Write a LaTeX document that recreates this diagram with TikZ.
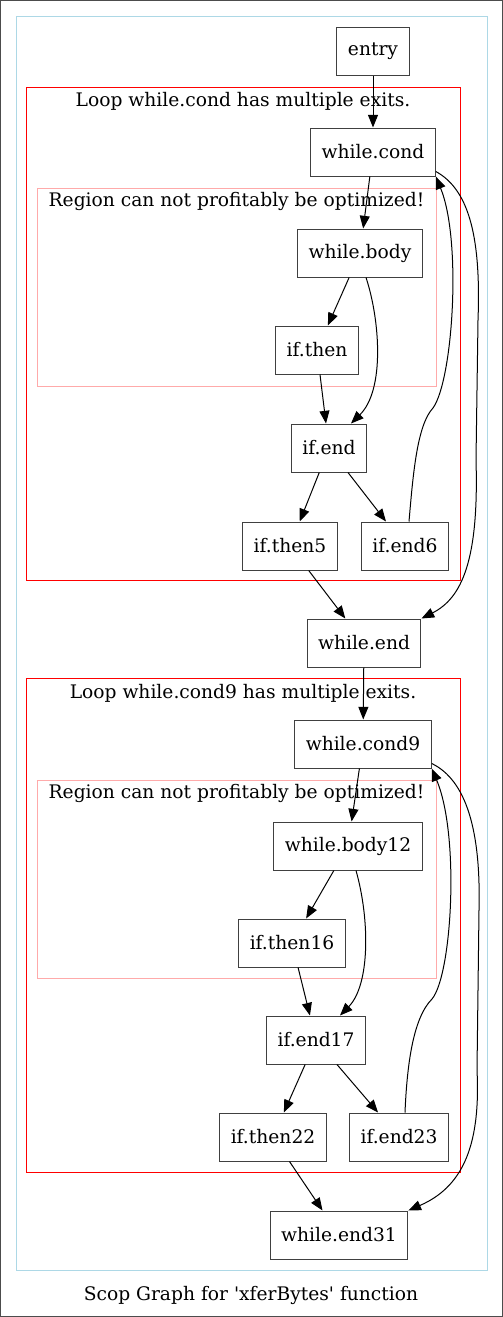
\documentclass[tikz,border=0pt]{standalone}
\usepackage{fontspec}
\setmainfont{DejaVu Serif}
\usetikzlibrary{arrows.meta}
\definecolor{clusterblue}{RGB}{173,216,230}
\definecolor{regionpink}{RGB}{255,170,170}

\begin{document}
\begin{tikzpicture}[x=0.75pt,y=0.75pt,
        font=\fontsize{14pt}{17pt}\selectfont,
        block/.style={draw=black!75, line width=0.75pt, minimum height=36pt,
            minimum width=54pt, inner xsep=8.25pt, inner ysep=0pt},
        edge/.style={-{Triangle[length=9.5pt,width=7.5pt]}, line width=0.75pt},
        loopframe/.style={draw=red, line width=0.75pt},
        regionframe/.style={draw=regionpink, line width=0.75pt},
        caption/.style={inner sep=0pt}
    ]
    \useasboundingbox (0,0) rectangle (503,-1317);
    % frames
    \draw[black!70, line width=0.75pt] (0.5,-0.5) rectangle (502.5,-1316.5);
    \draw[clusterblue, line width=0.75pt] (16,-16) rectangle (487,-1270);
    \draw[loopframe] (26,-87) rectangle (460,-580);
    \draw[regionframe] (37,-188) rectangle (436,-386);
    \draw[loopframe] (26,-678) rectangle (460,-1172);
    \draw[regionframe] (37,-780) rectangle (436,-978);
    \node[caption] (loopA) at (243,-101) {Loop while.cond has multiple exits.};
    \node[caption] (regionA) at (236.5,-201) {Region can not profitably be optimized!};
    \node[caption] (loopB) at (243,-693) {Loop while.cond9 has multiple exits.};
    \node[caption] (regionB) at (236.5,-793) {Region can not profitably be optimized!};
    \node[caption] (title) at (251,-1295) {Scop Graph for \textquotesingle xferBytes\textquotesingle{} function};

    % first loop
    \node[block] (entry) at (373,-51) {entry};
    \node[block] (wc) at (373,-152) {while.cond};
    \node[block] (wb) at (360,-253) {while.body};
    \node[block] (it) at (317,-350) {if.then};
    \node[block] (ie) at (329,-448) {if.end};
    \node[block] (it5) at (290,-546) {if.then5};
    \node[block] (ie6) at (405,-546) {if.end6};
    \node[block] (we) at (364,-643) {while.end};

    % second loop
    \node[block] (wc9) at (363,-744) {while.cond9};
    \node[block] (wb12) at (348,-846) {while.body12};
    \node[block] (it16) at (292,-943) {if.then16};
    \node[block] (ie17) at (316,-1040) {if.end17};
    \node[block] (it22) at (273,-1137) {if.then22};
    \node[block] (ie23) at (399,-1137) {if.end23};
    \node[block] (we31) at (339,-1235) {while.end31};

    \draw[edge] (entry) -- (wc);
    \draw[edge] (wc) -- (wb);
    \draw[edge] (wb) -- (it);
    \draw[edge] ([xshift=4.5pt]wb.south) .. controls (380,-320) and (385,-390) .. ([xshift=16.5pt]ie.north);
    \draw[edge] (it) -- (ie);
    \draw[edge] (ie) -- (it5);
    \draw[edge] (ie) -- (ie6);
    \draw[edge] ([xshift=3pt]ie6.north) .. controls (413,-475) and (417,-425) .. (433,-408)
        .. controls (453,-380) and (462,-240) .. (wc.south east);
    \draw[edge] ([yshift=3.75pt]wc.south east) .. controls (470,-190) and (481,-240) .. (478,-320)
        -- (476,-460) .. controls (479,-560) and (462,-598) .. (we.north east);
    \draw[edge] (it5) -- (we);
    \draw[edge] (we) -- (wc9);

    \draw[edge] (wc9) -- (wb12);
    \draw[edge] (wb12) -- (it16);
    \draw[edge] ([xshift=6pt]wb12.south) .. controls (370,-920) and (370,-985) .. ([xshift=18pt]ie17.north);
    \draw[edge] (it16) -- (ie17);
    \draw[edge] (ie17) -- (it22);
    \draw[edge] (ie17) -- (ie23);
    \draw[edge] ([xshift=4.5pt]ie23.north) .. controls (407,-1065) and (413,-1018) .. (432,-999)
        .. controls (452,-975) and (460,-835) .. (wc9.south east);
    \draw[edge] ([yshift=3.75pt]wc9.south east) .. controls (466,-780) and (481,-830) .. (479,-910)
        -- (477,-1070) .. controls (481,-1150) and (460,-1188) .. (we31.north east);
    \draw[edge] (it22) -- (we31);
\end{tikzpicture}
\end{document}
